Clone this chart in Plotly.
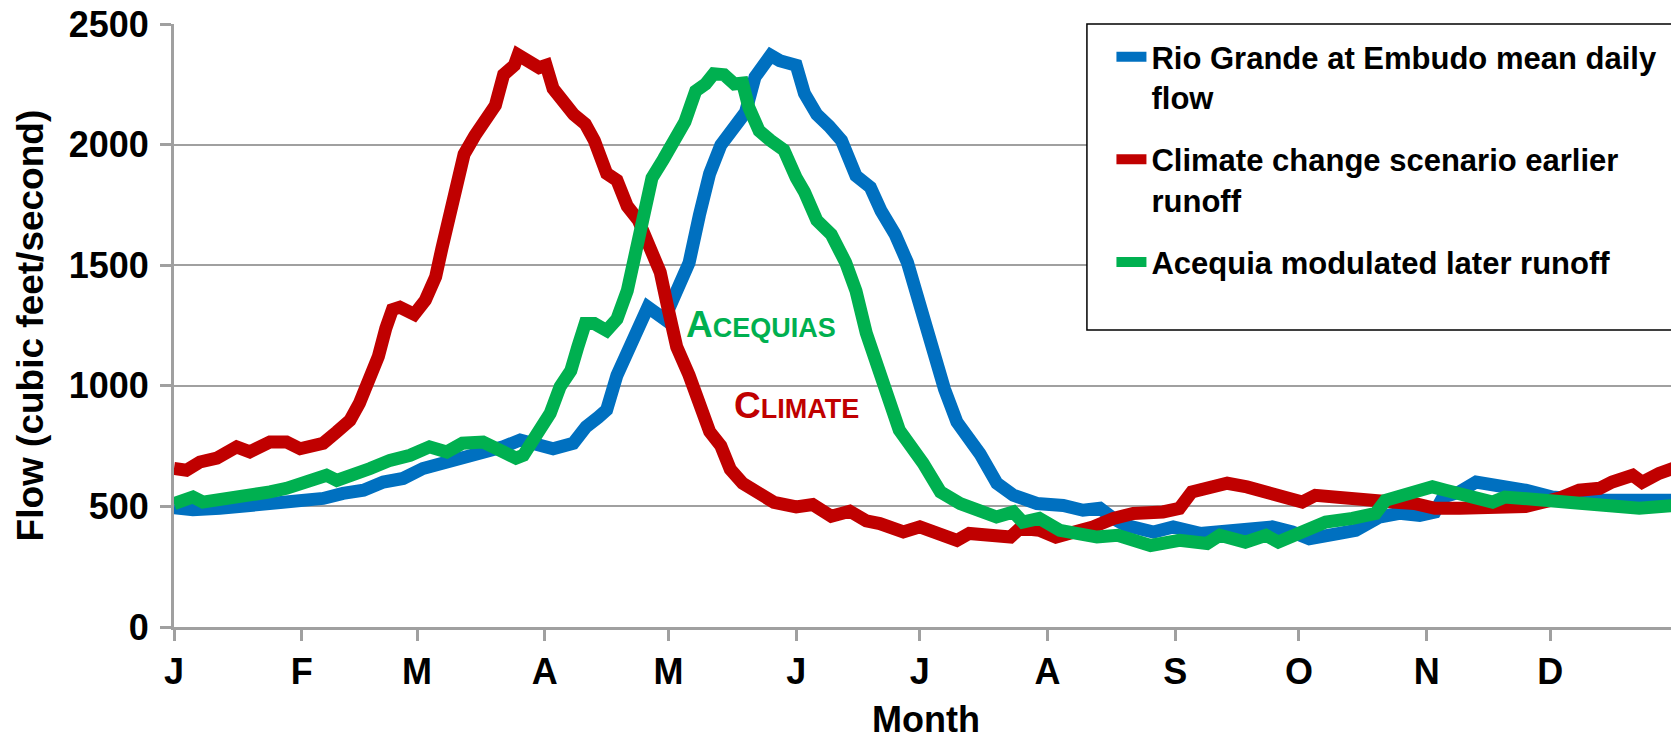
import plotly.graph_objects as go

# ---- data (day of year, flow in cubic feet/second) ----
blue_days = [0, 4.6, 11.1, 19.2, 23.3, 31.4, 36.2, 41, 46, 50.8, 55.6, 60.4, 65.3, 70, 75, 79.9, 84, 88, 92,
             96.9, 100, 103, 105, 107.5, 112.8, 115, 119, 122, 125, 127.5, 130, 132.7, 136, 138.7, 141, 144.8,
             147, 151, 153, 156, 159, 162, 165.5, 169, 171.6, 175, 178, 180, 182, 184.7, 187, 190, 195.6,
             199.7, 203.7, 209.4, 215.8, 220.6, 224.7, 228, 231, 237.7, 242.5, 249, 253.8, 261, 266.5, 271.4,
             275.5, 282.8, 286.8, 292.5, 297.4, 302.3, 306, 308, 312, 316, 321.6, 328, 334.5, 344, 365]
blue_flow = [495, 486, 492, 504, 504, 526, 533, 554, 567, 601, 616, 657, 678, 705, 726, 747, 775, 762, 739,
             762, 830, 870, 900, 1044, 1262, 1326, 1277, 1394, 1510, 1707, 1880, 1998, 2076, 2134, 2280, 2370,
             2348, 2329, 2212, 2125, 2076, 2017, 1871, 1823, 1725, 1628, 1511, 1393, 1239, 1102, 986, 850, 718,
             596, 546, 512, 504, 484, 492, 450, 421, 394, 415, 388, 394, 401, 415, 394,
             366, 388, 401, 456, 471, 463, 477, 539, 560, 601, 588, 567, 539, 525, 525]

red_days = [0, 3, 6.3, 10.4, 15.2, 18.4, 23.3, 27.3, 30.6, 36.2, 39.5, 42.7, 45, 46.8, 49.6, 51.4, 53, 54.8,
            58.3, 61, 63.5, 65, 67, 68.7, 70.4, 73, 75.6, 78, 80, 82.6, 83.5, 86, 88.6, 90.3, 92, 97, 99.8,
            102, 105, 107.5, 110, 112.7, 115, 118, 119.7, 122, 125, 127.5, 130, 132.7, 135, 138, 142, 145.6,
            151, 155, 159.5, 164, 168, 171.3, 177, 181, 190, 193, 198, 203, 205.3, 210, 214, 218, 223, 228,
            232.8, 240, 244, 247, 250.7, 255.6, 260.4, 263.3, 267.4, 273.8, 277, 283.5, 290, 295.6, 301, 306,
            312, 318.4, 323, 328, 336, 341, 346, 349, 354, 356.3, 360.4, 365]
red_flow = [657, 650, 684, 700, 747, 726, 767, 767, 739, 762, 809, 857, 928, 996, 1122, 1238, 1316, 1326,
            1296, 1355, 1452, 1569, 1724, 1842, 1960, 2037, 2105, 2163, 2290, 2329, 2372, 2348, 2319, 2329, 2232, 2125, 2086,
            2017, 1880, 1852, 1745, 1686, 1588, 1471, 1336, 1161, 1044, 927, 810, 751, 654, 596, 556, 517,
            498, 508, 459, 480, 440, 429, 394, 415, 359, 388, 380, 373, 409, 401, 373, 388, 415, 450,
            471, 477, 492, 560, 575, 596, 581, 567, 553, 518, 546, 533, 518, 518, 512, 492,
            492, 492, 505, 500, 533, 567, 575, 601, 629, 600, 637, 664]

green_days = [0, 4.6, 7, 15.2, 23.3, 27.3, 33, 37, 39.5, 43.5, 47.6, 52.4, 57.3, 62, 66.2, 70, 75, 79.9, 83,
              84.8, 88, 91.3, 93.7, 96.3, 98, 99.8, 102, 105, 107.5, 110, 112, 113.6, 116, 118.8, 121, 124,
              126.6, 129, 131, 133.5, 136, 138, 139.5, 142, 144.8, 148, 151, 153, 156, 159.5, 163, 165.5, 168,
              170.8, 173.4, 176, 181.8, 186, 190.8, 195.6, 199.6, 203.7, 206, 210, 215, 224, 229, 237, 244,
              250.7, 253.8, 260, 265, 268, 273.8, 279.5, 286, 291.6, 294, 298, 302, 305.4, 308.6, 313.5, 320,
              323, 328, 336, 349, 355.6, 365]
green_flow = [511, 539, 518, 533, 560, 575, 608, 629, 608, 629, 657, 691, 712, 747, 726, 762, 767, 726, 700,
              712, 788, 886, 996, 1063, 1161, 1258, 1258, 1229, 1277, 1394, 1550, 1705, 1862, 1940, 1998, 2095,
              2222, 2251, 2294, 2290, 2251, 2255, 2154, 2057, 2017, 1978, 1862, 1804, 1686, 1628, 1511, 1394, 1219,
              1082, 965, 817, 679, 560, 512, 484, 456, 477, 435, 450, 401, 373, 380, 338, 359,
              346, 380, 352, 380, 352, 401, 435, 450, 471, 525, 546, 575, 581, 567, 546, 518,
              539, 533, 512, 505, 492, 505]

month_days = [0, 31, 59, 90, 120, 151, 181, 212, 243, 273, 304, 334, 365]
month_labels = ["J", "F", "M", "A", "M", "J", "J", "A", "S", "O", "N", "D", ""]
y_ticks = [0, 500, 1000, 1500, 2000, 2500]

series_names = ["Rio Grande at Embudo mean daily<br>flow",
                "Climate change scenario earlier<br>runoff",
                "Acequia modulated later runoff"]
series_colors = ["#0070C0", "#C00000", "#00B050"]

FONT = "Liberation Sans, Arial, sans-serif"
GRID = "#A0A0A0"

fig = go.Figure()
for i, (d, v) in enumerate([(blue_days, blue_flow), (red_days, red_flow), (green_days, green_flow)]):
    fig.add_trace(go.Scatter(
        x=d, y=v, mode="lines", name=series_names[i], legendgroup=f"g{i}",
        line=dict(color=series_colors[i], width=13),
    ))

# legend frame
fig.add_shape(type="rect", xref="paper", yref="paper", x0=0.607, x1=0.9993, y0=0.4925, y1=1.0,
              line=dict(color="black", width=1.5), fillcolor="white", layer="above")

# in-plot labels (small caps)
fig.add_annotation(x=142.5, y=1256, xref="x", yref="y", showarrow=False,
                   text="A<span style='font-size:27px'>CEQUIAS</span>",
                   font=dict(family=FONT, size=37, color="#00B050", weight="bold"))
fig.add_annotation(x=151, y=920, xref="x", yref="y", showarrow=False,
                   text="C<span style='font-size:27px'>LIMATE</span>",
                   font=dict(family=FONT, size=37, color="#C00000", weight="bold"))

# axis titles
fig.add_annotation(x=0.5, y=-0.153, xref="paper", yref="paper", showarrow=False,
                   xanchor="center", yanchor="middle", text="Month",
                   font=dict(family=FONT, size=36, color="black", weight="bold"))
fig.add_annotation(x=-0.0951, y=0.5, xref="paper", yref="paper", showarrow=False,
                   xanchor="center", yanchor="middle", textangle=-90,
                   text="Flow (cubic feet/second)",
                   font=dict(family=FONT, size=37, color="black", weight="bold"))

# the page body adds an 8px offset, so the figure is 8px smaller than the window
fig.update_layout(
    width=1671, height=728,
    margin=dict(l=166, r=1, t=16, b=109),
    plot_bgcolor="white", paper_bgcolor="white",
    font=dict(family=FONT, color="black", weight="bold"),
    showlegend=True,
    legend=dict(x=0.6233, y=0.99, xanchor="left", yanchor="top",
                font=dict(family=FONT, size=31, color="black", weight="bold"),
                bgcolor="rgba(0,0,0,0)", borderwidth=0, valign="top",
                traceorder="grouped", tracegroupgap=19),
    xaxis=dict(range=[0, 365], tickmode="array", tickvals=month_days, ticktext=month_labels,
               showgrid=False, zeroline=False, showline=True, linecolor=GRID, linewidth=3,
               ticks="outside", ticklen=11, tickwidth=2.5, tickcolor=GRID, automargin=False,
               ticklabeloverflow="allow",
               tickfont=dict(family=FONT, size=36, color="black", weight="bold")),
    yaxis=dict(range=[0, 2500], tickmode="array", tickvals=y_ticks,
               showgrid=True, gridcolor=GRID, gridwidth=2, zeroline=False,
               showline=True, linecolor=GRID, linewidth=3, automargin=False,
               ticks="outside", ticklen=11, tickwidth=2.5, tickcolor=GRID,
               ticklabeloverflow="allow",
               tickfont=dict(family=FONT, size=36, color="black", weight="bold"),
               ticklabelstandoff=4),
)

fig.write_html("out.html")
